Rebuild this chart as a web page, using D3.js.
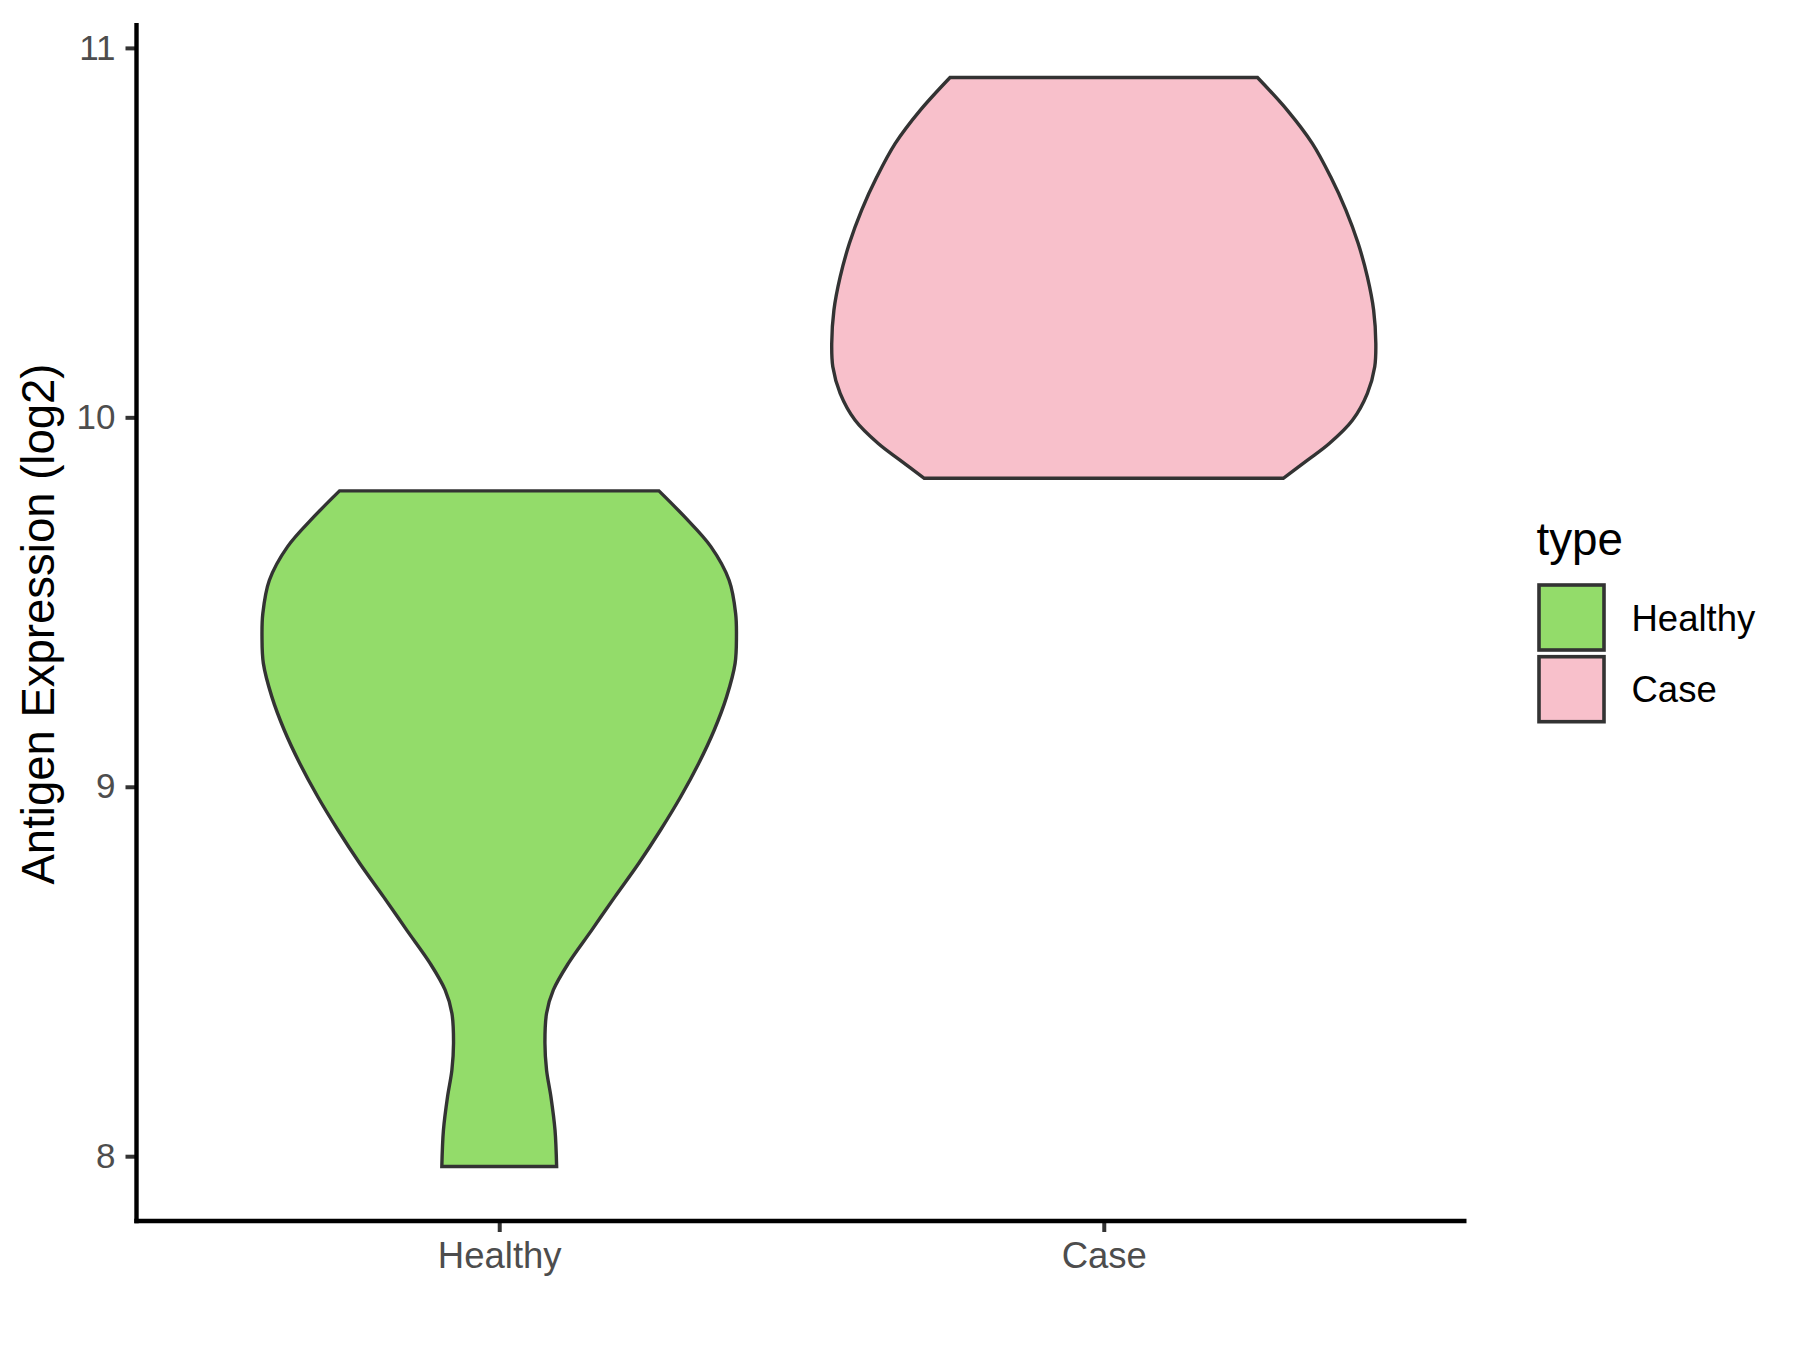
<!DOCTYPE html>
<html>
<head>
<meta charset="utf-8">
<script src="https://cdn.jsdelivr.net/npm/d3@7"></script>
<style>
  html, body { margin: 0; padding: 0; background: #ffffff; }
  svg { display: block; }
</style>
</head>
<body>
<svg id="chart" width="1800" height="1350"></svg>
<script>
// ---------------- data ----------------
const categories = ["Healthy", "Case"];
const fillColors = ["#93DC6A", "#F8C0CB"];

// density profile of each violin: value (log2) and scaled width (1 = widest violin)
const healthyValues = [9.801, 9.731, 9.650, 9.559, 9.469, 9.406, 9.334, 9.244, 9.153, 9.063,
                       8.973, 8.883, 8.793, 8.702, 8.612, 8.522, 8.450, 8.387, 8.306, 8.233,
                       8.161, 8.071, 7.972];
const healthyWidths = [0.587, 0.681, 0.778, 0.845, 0.869, 0.872, 0.867, 0.836, 0.790, 0.733,
                       0.667, 0.593, 0.513, 0.425, 0.340, 0.254, 0.199, 0.174, 0.168, 0.174,
                       0.190, 0.205, 0.211];
const caseValues = [10.920, 10.831, 10.741, 10.651, 10.561, 10.471, 10.380, 10.290, 10.200,
                    10.137, 10.065, 9.992, 9.929, 9.884, 9.835];
const caseWidths = [0.565, 0.675, 0.767, 0.834, 0.890, 0.935, 0.969, 0.992, 1.000,
                    0.996, 0.969, 0.914, 0.829, 0.749, 0.660];

const yTicks = [8, 9, 10, 11];
const yTitle = "Antigen Expression (log2)";
const legendTitle = "type";

// ---------------- layout ----------------
const FONT = "'Liberation Sans', Arial, Helvetica, sans-serif";
const panel = { left: 136.5, right: 1466.5, top: 23, bottom: 1221 };

const svg = d3.select("#chart");

const series = [
  { cat: categories[0], values: healthyValues, widths: healthyWidths, fill: fillColors[0] },
  { cat: categories[1], values: caseValues, widths: caseWidths, fill: fillColors[1] }
];

const allVals = healthyValues.concat(caseValues);
const vMin = d3.min(allVals), vMax = d3.max(allVals);
const pad = (vMax - vMin) * 0.05;

const y = d3.scaleLinear()
  .domain([vMin - pad, vMax + pad])
  .range([panel.bottom, panel.top]);

const x = d3.scalePoint()
  .domain(categories)
  .range([panel.left, panel.right])
  .padding(0.6);

const halfMax = 0.45 * x.step();

// ---------------- violins ----------------
series.forEach(s => {
  const cx = x(s.cat);
  const pts = s.values.map((v, i) => ({ v: v, w: s.widths[i] }));
  const area = d3.area()
    .y(d => y(d.v))
    .x0(d => cx - d.w * halfMax)
    .x1(d => cx + d.w * halfMax)
    .curve(d3.curveCatmullRom.alpha(0.5));
  svg.append("path")
    .attr("d", area(pts))
    .attr("fill", s.fill)
    .attr("stroke", "#333333")
    .attr("stroke-width", 3.4)
    .attr("stroke-linejoin", "miter");
});

// ---------------- axes ----------------
const yAxis = d3.axisLeft(y).tickValues(yTicks).tickFormat(d3.format("d"))
  .tickSize(11).tickPadding(10);
const gy = svg.append("g").attr("transform", `translate(${panel.left},0)`).call(yAxis);
gy.select(".domain").remove();
gy.selectAll(".tick line").attr("stroke", "#333333").attr("stroke-width", 4);
gy.selectAll(".tick text").attr("fill", "#4D4D4D").attr("font-family", FONT).attr("font-size", 35);

const xAxis = d3.axisBottom(x).tickSize(11).tickPadding(10);
const gx = svg.append("g").attr("transform", `translate(0,${panel.bottom})`).call(xAxis);
gx.select(".domain").remove();
gx.selectAll(".tick line").attr("stroke", "#333333").attr("stroke-width", 4);
gx.selectAll(".tick text").attr("fill", "#4D4D4D").attr("font-family", FONT).attr("font-size", 36.5);

// axis lines
svg.append("line")
  .attr("x1", panel.left).attr("x2", panel.left)
  .attr("y1", panel.top).attr("y2", panel.bottom + 2.2)
  .attr("stroke", "#000000").attr("stroke-width", 4.4);
svg.append("line")
  .attr("x1", panel.left - 2.2).attr("x2", panel.right)
  .attr("y1", panel.bottom).attr("y2", panel.bottom)
  .attr("stroke", "#000000").attr("stroke-width", 4.4);

// y axis title
svg.append("text")
  .attr("transform", `translate(54,${(panel.top + panel.bottom) / 2 + 2}) rotate(-90)`)
  .attr("text-anchor", "middle")
  .attr("font-family", FONT)
  .attr("font-size", 45.5)
  .attr("fill", "#000000")
  .text(yTitle);

// ---------------- legend ----------------
const lg = svg.append("g");
lg.append("text")
  .attr("x", 1536.5).attr("y", 555)
  .attr("font-family", FONT).attr("font-size", 45.8).attr("fill", "#000000")
  .text(legendTitle);

const keySize = 65, keyStep = 71.7, keyX = 1539, keyY = 585;
series.forEach((s, i) => {
  lg.append("rect")
    .attr("x", keyX).attr("y", keyY + i * keyStep)
    .attr("width", keySize).attr("height", keySize)
    .attr("fill", s.fill)
    .attr("stroke", "#333333").attr("stroke-width", 3.6);
  lg.append("text")
    .attr("x", 1631.5).attr("y", keyY + i * keyStep + keySize / 2 + 13)
    .attr("font-family", FONT).attr("font-size", 36.5).attr("fill", "#000000")
    .text(s.cat);
});
</script>
</body>
</html>
